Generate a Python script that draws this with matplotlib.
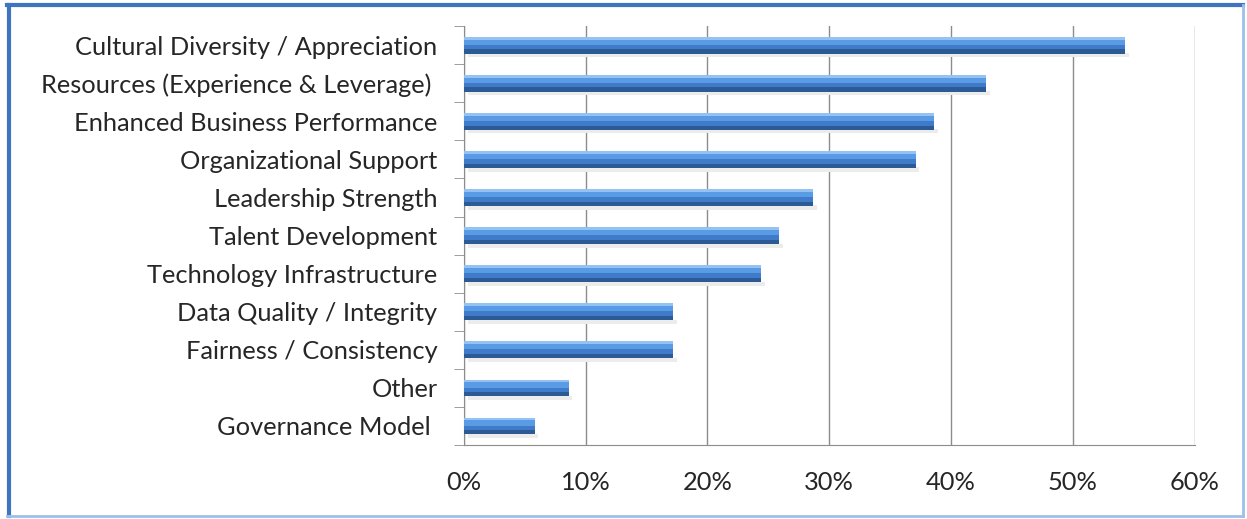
import numpy as np
import matplotlib.pyplot as plt
from matplotlib.lines import Line2D

categories = ['Cultural Diversity / Appreciation', 'Resources (Experience & Leverage) ',
              'Enhanced Business Performance', 'Organizational Support',
              'Leadership Strength', 'Talent Development', 'Technology Infrastructure',
              'Data Quality / Integrity', 'Fairness / Consistency', 'Other',
              'Governance Model ']
values = [54.3, 42.9, 38.6, 37.1, 28.7, 25.9, 24.4, 17.2, 17.2, 8.6, 5.8]
xticks = [0, 10, 20, 30, 40, 50, 60]

plt.rcParams['font.family'] = ['Lato', 'DejaVu Sans']

fig = plt.figure(figsize=(12.47, 5.19), dpi=100)
ax = fig.add_axes([0.372, 0.1426, 0.586, 0.807])

y = np.arange(len(categories))[::-1]
h = 0.44

# soft shadow under the bars
ax.barh(y - h * 0.6, values, height=h * 0.25, left=0.3, color='#ececec', zorder=2)
# layers from top of bar: (start, end, colour) as fraction of bar height
layers = [(0.0, 1.0, '#2c5a94'), (0.0, 0.75, '#3f7bc8'),
          (0.0, 0.48, '#5a9be6'), (0.0, 0.17, '#94c2f3')]
for a, b, c in layers:
    top = y + h / 2
    ax.barh(top - h * (a + b) / 2, values, height=h * (b - a), color=c,
            linewidth=0, zorder=3)

ax.set_xlim(0, 60)
ax.set_ylim(-0.5, len(categories) - 0.5)
ax.set_xticks(xticks)
ax.set_xticklabels([f'{t}%' for t in xticks])
ax.set_yticks(y)
ax.set_yticklabels(categories)
ax.set_yticks(np.arange(-0.5, len(categories), 1), minor=True)

ax.tick_params(axis='y', which='major', length=0, pad=19, labelsize=18.3, labelcolor='#262626')
ax.tick_params(axis='y', which='minor', length=7, color='#8c8c8c')
ax.tick_params(axis='x', length=0, pad=19, labelsize=18.3, labelcolor='#262626')

ax.grid(axis='x', color='#8c8c8c', linewidth=1, zorder=0)
ax.set_axisbelow(True)
ax.spines['top'].set_visible(False)
ax.spines['right'].set_visible(False)
ax.spines['left'].set_color('#8c8c8c')
ax.spines['bottom'].set_color('#8c8c8c')

# outer frame
fig.add_artist(Line2D([0.007, 0.007], [0.005, 0.99], color='#3f74bf', lw=3))
fig.add_artist(Line2D([0.006, 0.997], [0.99, 0.99], color='#3f74bf', lw=3))
fig.add_artist(Line2D([0.006, 0.997], [0.005, 0.005], color='#9cc0ea', lw=2))
fig.add_artist(Line2D([0.997, 0.997], [0.005, 0.99], color='#9cc0ea', lw=2))

fig.savefig('out.png', dpi=100)
